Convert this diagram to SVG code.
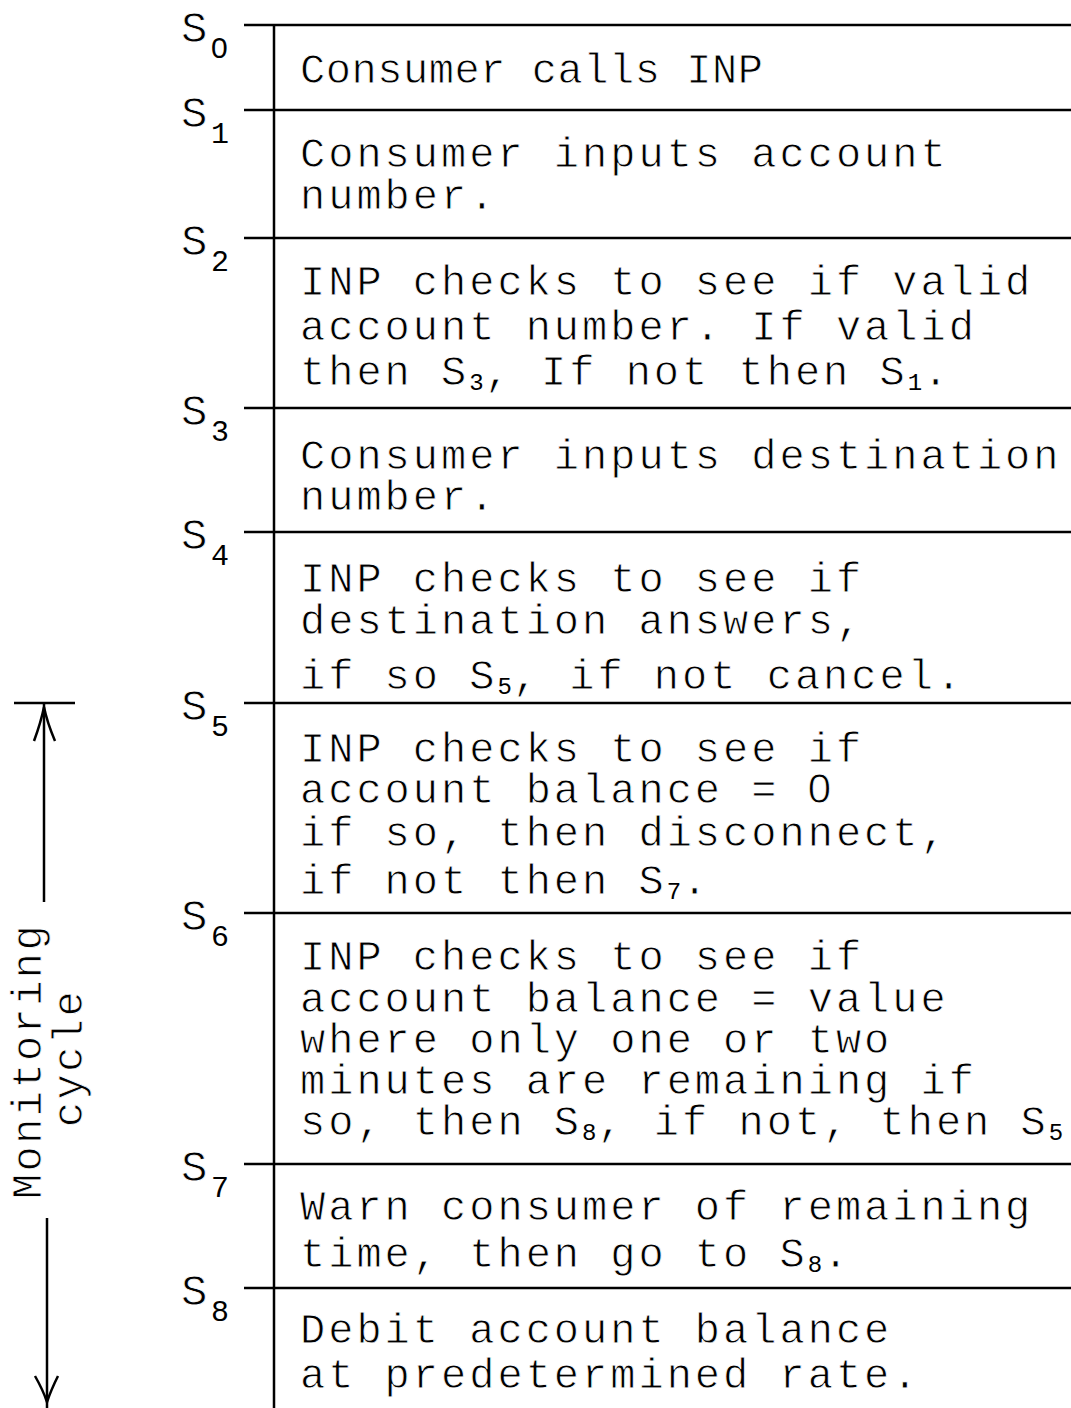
<svg xmlns="http://www.w3.org/2000/svg" width="1071" height="1408" viewBox="0 0 1071 1408">
  <style>
    .rule { stroke: #000; stroke-width: 2.5; fill: none; }
    /* thin plotter-like lettering: a hairline of white trims the glyph stems */
    .txt, .lbl, .st { font-family: "Liberation Mono", "DejaVu Sans Mono", monospace; fill: #000; stroke: #fff; stroke-width: 0.8px; }
    .txt { font-size: 42px; letter-spacing: 3px; }
    .lbl { font-size: 42px; letter-spacing: 2.4px; }
    .st { font-size: 44px; }
    .sub { font-size: 30px; stroke: none; }
    .isub { font-size: 24px; letter-spacing: 1px; stroke: none; }
    .zero { font-family: "Liberation Sans", Arial, sans-serif; }
  </style>
  <rect width="1071" height="1408" fill="#fff"/>

  <!-- table frame: state dividers and left edge -->
  <g id="connectors">
    <line class="rule" x1="274" y1="25" x2="274" y2="1408"/>
    <line class="rule" x1="244" y1="25" x2="1071" y2="25"/>
    <line class="rule" x1="244" y1="110" x2="1071" y2="110"/>
    <line class="rule" x1="244" y1="238" x2="1071" y2="238"/>
    <line class="rule" x1="244" y1="408" x2="1071" y2="408"/>
    <line class="rule" x1="244" y1="532" x2="1071" y2="532"/>
    <line class="rule" x1="244" y1="703" x2="1071" y2="703"/>
    <line class="rule" x1="244" y1="913" x2="1071" y2="913"/>
    <line class="rule" x1="244" y1="1164" x2="1071" y2="1164"/>
    <line class="rule" x1="244" y1="1288" x2="1071" y2="1288"/>

    <!-- monitoring cycle span -->
    <line class="rule" x1="14" y1="703" x2="75" y2="703"/>
    <line class="rule" x1="44" y1="703" x2="44" y2="902"/>
    <path class="rule" d="M34 741 Q41 722 44 707 Q47 722 55 741"/>
    <line class="rule" x1="47" y1="1218" x2="47" y2="1408"/>
    <path class="rule" d="M35 1376 Q43 1390 47 1402 Q51 1390 58 1376"/>
  </g>

  <!-- cycle label -->
  <g id="monitoring-label">
    <text class="lbl" transform="translate(41,1061) rotate(-90)" text-anchor="middle">Monitoring</text>
    <text class="lbl" transform="translate(82,1058) rotate(-90)" text-anchor="middle">cycle</text>
  </g>

  <!-- state markers -->
  <g id="state-labels">
    <text class="st" x="181" y="42">S<tspan class="sub zero" x="211" y="58">0</tspan></text>
    <text class="st" x="181" y="127">S<tspan class="sub" x="211" y="143">1</tspan></text>
    <text class="st" x="181" y="255">S<tspan class="sub" x="211" y="271">2</tspan></text>
    <text class="st" x="181" y="425">S<tspan class="sub" x="211" y="441">3</tspan></text>
    <text class="st" x="181" y="549">S<tspan class="sub" x="211" y="565">4</tspan></text>
    <text class="st" x="181" y="720">S<tspan class="sub" x="211" y="736">5</tspan></text>
    <text class="st" x="181" y="930">S<tspan class="sub" x="211" y="946">6</tspan></text>
    <text class="st" x="181" y="1181">S<tspan class="sub" x="211" y="1197">7</tspan></text>
    <text class="st" x="181" y="1305">S<tspan class="sub" x="211" y="1321">8</tspan></text>
  </g>

  <g id="s0">
    <text class="txt" x="300" y="83" textLength="466">Consumer calls INP</text>
  </g>
  <g id="s1">
    <text class="txt" x="300" y="167">Consumer inputs account</text>
    <text class="txt" x="300" y="209">number.</text>
  </g>
  <g id="s2">
    <text class="txt" x="300" y="295">INP checks to see if valid</text>
    <text class="txt" x="300" y="340">account number. If valid</text>
    <text class="txt" x="300" y="385">then S<tspan class="isub" dy="5">3</tspan><tspan dy="-5">, If not then S</tspan><tspan class="isub" dy="5">1</tspan><tspan dy="-5">.</tspan></text>
  </g>
  <g id="s3">
    <text class="txt" x="300" y="469">Consumer inputs destination</text>
    <text class="txt" x="300" y="510">number.</text>
  </g>
  <g id="s4">
    <text class="txt" x="300" y="592">INP checks to see if</text>
    <text class="txt" x="300" y="634">destination answers,</text>
    <text class="txt" x="300" y="689">if so S<tspan class="isub" dy="5">5</tspan><tspan dy="-5">, if not cancel.</tspan></text>
  </g>
  <g id="s5">
    <text class="txt" x="300" y="762">INP checks to see if</text>
    <text class="txt" x="300" y="803">account balance = <tspan class="zero">0</tspan></text>
    <text class="txt" x="300" y="846">if so, then disconnect,</text>
    <text class="txt" x="300" y="894">if not then S<tspan class="isub" dy="5">7</tspan><tspan dy="-5">.</tspan></text>
  </g>
  <g id="s6">
    <text class="txt" x="300" y="970">INP checks to see if</text>
    <text class="txt" x="300" y="1012">account balance = value</text>
    <text class="txt" x="300" y="1053">where only one or two</text>
    <text class="txt" x="300" y="1094">minutes are remaining if</text>
    <text class="txt" x="300" y="1135">so, then S<tspan class="isub" dy="5">8</tspan><tspan dy="-5">, if not, then S</tspan><tspan class="isub" dy="5">5</tspan></text>
  </g>
  <g id="s7">
    <text class="txt" x="300" y="1220">Warn consumer of remaining</text>
    <text class="txt" x="300" y="1267">time, then go to S<tspan class="isub" dy="5">8</tspan><tspan dy="-5">.</tspan></text>
  </g>
  <g id="s8">
    <text class="txt" x="300" y="1343">Debit account balance</text>
    <text class="txt" x="300" y="1388">at predetermined rate.</text>
  </g>
</svg>
